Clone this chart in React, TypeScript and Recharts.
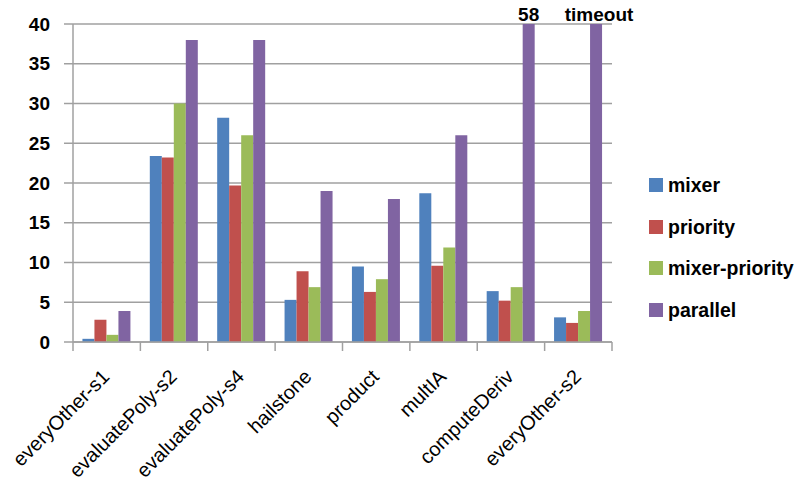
import React from 'react';
import { BarChart, Bar, XAxis, YAxis, CartesianGrid, Legend, LabelList } from 'recharts';

const categories = ['everyOther-s1', 'evaluatePoly-s2', 'evaluatePoly-s4', 'hailstone', 'product', 'multIA', 'computeDeriv', 'everyOther-s2'];
const mixer = [0.4, 23.4, 28.2, 5.3, 9.5, 18.7, 6.4, 3.1];
const priority = [2.8, 23.2, 19.7, 8.9, 6.3, 9.6, 5.2, 2.4];
const mixerPriority = [0.9, 30, 26, 6.9, 7.9, 11.9, 6.9, 3.9];
// null = timeout
const parallel: (number | null)[] = [3.9, 38, 38, 19, 18, 26, 58, null];
const parallelNotes = ['', '', '', '', '', '', '58', 'timeout'];
const yTicks = [0, 5, 10, 15, 20, 25, 30, 35, 40];
const Y_MAX = 40;

const seriesNames = ['mixer', 'priority', 'mixer-priority', 'parallel'];
const seriesColors = ['#4F81BD', '#C0504D', '#9BBB59', '#8064A2'];

const data = categories.map((c, i) => ({
  name: c,
  mixer: mixer[i],
  priority: priority[i],
  mixerPriority: mixerPriority[i],
  parallel: parallel[i] === null ? Y_MAX : Math.min(parallel[i] as number, Y_MAX),
  note: parallelNotes[i],
}));

const FONT = '"Liberation Sans", Arial, sans-serif';
const GRID = '#a0a0a0';

const XTick = (props: any) => {
  const { x, y, payload, index, width, visibleTicksCount } = props;
  const band = width && visibleTicksCount ? width / visibleTicksCount : 67.375;
  const half = band / 2;
  return (
    <g>
      <line x1={x - half} y1={y} x2={x - half} y2={y + 9} stroke={GRID} strokeWidth={1.5} />
      {index === visibleTicksCount - 1 && (
        <line x1={x + half} y1={y} x2={x + half} y2={y + 9} stroke={GRID} strokeWidth={1.5} />
      )}
      <text
        x={x + 4}
        y={y + 36}
        textAnchor="end"
        transform={`rotate(-45, ${x + 4}, ${y + 36})`}
        fontFamily={FONT}
        fontSize={20}
        fill="#000"
      >
        {payload.value}
      </text>
    </g>
  );
};

const NoteLabel = (props: any) => {
  const { x, y, width, value } = props;
  if (!value) return null;
  return (
    <text x={x + width / 2 + (value === 'timeout' ? 3 : 0)} y={y - 3} textAnchor="middle" fontFamily={FONT} fontWeight="bold" fontSize={19} fill="#000">
      {value}
    </text>
  );
};

const LegendContent = () => (
  <div style={{ fontFamily: FONT, fontWeight: 'bold', fontSize: 19.5, color: '#000' }}>
    {seriesNames.map((n, i) => (
      <div key={n} style={{ display: 'flex', alignItems: 'center', height: 41.8 }}>
        <div style={{ width: 14, height: 14, background: seriesColors[i], marginRight: 5 }} />
        <span style={{ lineHeight: '22px' }}>{n}</span>
      </div>
    ))}
  </div>
);

export default function App() {
  return (
    <div style={{ position: 'absolute', left: 0, top: 0, background: '#fff' }}>
      <BarChart
        width={798}
        height={481}
        data={data}
        margin={{ top: 24, right: 186, bottom: 0, left: 0 }}
        barCategoryGap="14%"
        barGap={0}
      >
        <CartesianGrid vertical={false} stroke={GRID} strokeWidth={1.5} />
        <XAxis
          dataKey="name"
          height={139}
          interval={0}
          tickSize={0}
          tickMargin={0}
          tickLine={false}
          axisLine={{ stroke: GRID, strokeWidth: 1.5 }}
          tick={<XTick />}
        />
        <YAxis
          width={73}
          domain={[0, Y_MAX]}
          ticks={yTicks}
          allowDataOverflow
          tickSize={9}
          tickMargin={14}
          tickLine={{ stroke: GRID, strokeWidth: 1.5 }}
          axisLine={{ stroke: GRID, strokeWidth: 1.5 }}
          tick={{ fontFamily: FONT, fontWeight: 'bold', fontSize: 19, fill: '#000' }}
        />
        <Legend
          layout="vertical"
          align="center"
          verticalAlign="middle"
          content={<LegendContent />}
          wrapperStyle={{ left: 649, top: 164, width: 150 }}
        />
        <Bar dataKey="mixer" name="mixer" fill={seriesColors[0]} isAnimationActive={false} />
        <Bar dataKey="priority" name="priority" fill={seriesColors[1]} isAnimationActive={false} />
        <Bar dataKey="mixerPriority" name="mixer-priority" fill={seriesColors[2]} isAnimationActive={false} />
        <Bar dataKey="parallel" name="parallel" fill={seriesColors[3]} isAnimationActive={false}>
          <LabelList dataKey="note" content={<NoteLabel />} />
        </Bar>
      </BarChart>
    </div>
  );
}
